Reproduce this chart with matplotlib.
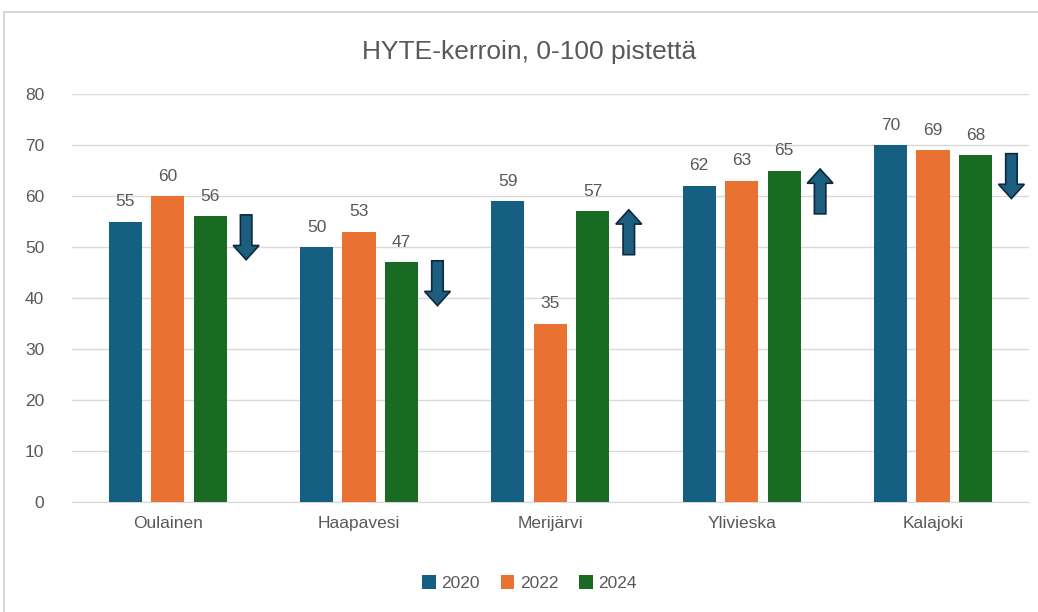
import matplotlib.pyplot as plt
import numpy as np
from matplotlib.patches import Rectangle

plt.rcParams['font.family'] = ['Liberation Sans', 'DejaVu Sans']

# Data
municipalities = ['Oulainen', 'Haapavesi', 'Merijärvi', 'Ylivieska', 'Kalajoki']
years = ['2020', '2022', '2024']
scores_2020 = [55, 50, 59, 62, 70]
scores_2022 = [60, 53, 35, 63, 69]
scores_2024 = [56, 47, 57, 65, 68]
trend = ['down', 'down', 'up', 'up', 'down']  # arrow next to 2024 bar

colors = ['#156082', '#E97132', '#196B24']
text_col = '#595959'

fig = plt.figure(figsize=(10.38, 6.12), dpi=100)
ax = fig.add_axes([0.0694, 0.1797, 0.9216, 0.6667])

x = np.arange(len(municipalities))
width = 0.173
step = 0.222
series = [scores_2020, scores_2022, scores_2024]
for i, (vals, col, yr) in enumerate(zip(series, colors, years)):
    pos = x + (i - 1) * step
    bars = ax.bar(pos, vals, width, color=col, label=yr, zorder=3)
    for b, v in zip(bars, vals):
        ax.annotate(str(v), (b.get_x() + b.get_width() / 2, v),
                    xytext=(0, 9), textcoords='offset points',
                    ha='center', va='bottom', fontsize=12.5, color=text_col)

# trend arrows (vertical, so x-width in category units, head length in y units)
arrow_len = 8.8
for xi, v, t in zip(x, scores_2024, trend):
    ax_x = xi + 0.41
    top = v + 0.3
    if t == 'down':
        start, dy = top, -arrow_len
    else:
        start, dy = top - arrow_len, arrow_len
    ax.arrow(ax_x, start, 0, dy, width=0.06, head_width=0.135,
             head_length=2.8, length_includes_head=True,
             fc='#1B5E7E', ec='#0E2841', lw=1.2, zorder=4)

ax.set_xlim(-0.5, 4.5)
ax.set_ylim(0, 80)
ax.set_yticks(range(0, 81, 10))
ax.set_xticks(x)
ax.set_xticklabels(municipalities)
ax.tick_params(axis='both', length=0, labelsize=12.5, labelcolor=text_col)
ax.tick_params(axis='y', pad=20)
ax.tick_params(axis='x', pad=10)
ax.grid(axis='y', color='#D9D9D9', lw=1, zorder=0)
for s in ['top', 'right', 'left']:
    ax.spines[s].set_visible(False)
ax.spines['bottom'].set_color('#D9D9D9')

fig.text(0.51, 0.915, 'HYTE-kerroin, 0-100 pistettä', ha='center', va='center',
         fontsize=19, color=text_col)

fig.legend(loc='center', bbox_to_anchor=(0.51, 0.047), ncol=3, frameon=False,
           fontsize=12.5, handlelength=0.8, handleheight=0.8, handletextpad=0.3,
           columnspacing=1.2, labelcolor=text_col)

# chart border
fig.patches.append(Rectangle((4 / 1038, -0.1), 1.2, (612 - 12) / 612 + 0.1,
                             transform=fig.transFigure, fill=False,
                             ec='#D0D0D0', lw=1.2))

fig.savefig('out.png', dpi=100)
